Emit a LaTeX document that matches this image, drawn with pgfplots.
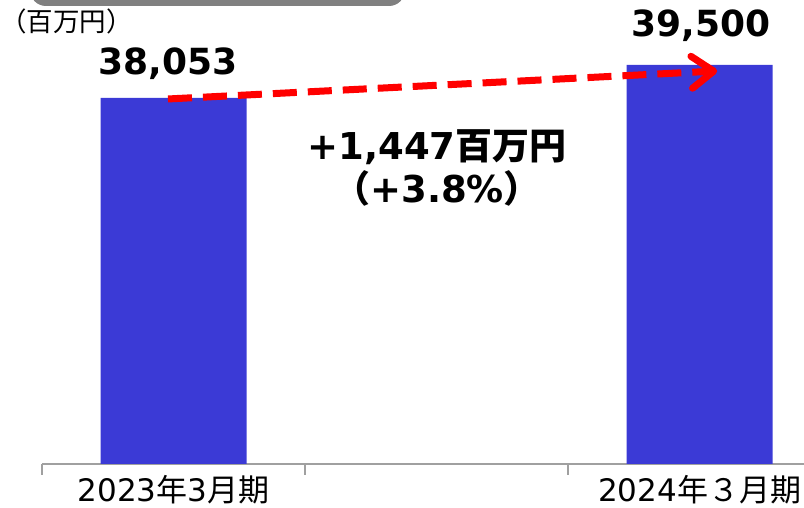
\documentclass[border=0pt]{standalone}
\usepackage{fontspec}
\setmainfont{DejaVu Sans}
\newfontfamily\cjk{Noto Sans CJK JP}
\usepackage{pgfplots}
\pgfplotsset{compat=1.18}
\usetikzlibrary{arrows.meta}
\definecolor{barblue}{RGB}{59,58,214}
\definecolor{axgray}{RGB}{160,160,160}
\definecolor{boxgray}{RGB}{128,128,128}
\begin{document}
\begin{tikzpicture}
\useasboundingbox (0,0) rectangle (804pt,508pt);
\clip (0,0) rectangle (804pt,508pt);
\fill[boxgray, rounded corners=16pt] (30pt,502pt) rectangle (405pt,560pt);
\node[anchor=base west, inner sep=0pt] at (0pt,476pt) {\fontsize{26.5}{27}\selectfont\cjk （百万円）};
\begin{axis}[
  at={(42pt,44pt)}, anchor=south west,
  scale only axis, width=762pt, height=464pt,
  xmin=-0.5, xmax=2.397, ymin=22000, ymax=42350,
  axis x line=bottom, hide y axis,
  x axis line style={-, axgray, line width=1.2pt},
  xtick={0,2},
  xticklabels={2023{\cjk 年}3{\cjk 月期}, 2024{\cjk 年３月期}},
  major tick length=0pt,
  xticklabel style={anchor=base, yshift=-38pt, font=\fontsize{31}{31}\selectfont, inner sep=0pt},
  extra x ticks={-0.5,0.5,1.5},
  extra x tick labels={},
  extra x tick style={major tick length=11pt, tick align=outside, tick style={axgray, line width=1.2pt}},
  ybar, bar width=146pt,
  clip=false,
]
\addplot[fill=barblue, draw=none] coordinates {(0,38053) (2,39500)};
\draw[red, line width=7pt, dash pattern=on 24pt off 11pt, -{Straight Barb[length=22pt, width=32pt, round]}]
  (axis cs:-0.021,38009) -- (axis cs:2.067,39237);
\node[anchor=base, inner sep=0pt, font=\fontsize{36}{36}\selectfont\bfseries] at (axis cs:-0.021,39061) {38,053};
\node[anchor=base, inner sep=0pt, font=\fontsize{36}{36}\selectfont\bfseries] at (axis cs:2.006,40728) {39,500};
\node[anchor=base, inner sep=0pt, font=\fontsize{37}{37}\selectfont\bfseries] at (axis cs:1.002,35333) {+1,447{\cjk\bfseries 百万円}};
\node[anchor=base, inner sep=0pt, font=\fontsize{37}{37}\selectfont\bfseries] at (axis cs:1.002,33447) {{\cjk\bfseries （}+3.8\%{\cjk\bfseries ）}};
\end{axis}
\end{tikzpicture}
\end{document}
